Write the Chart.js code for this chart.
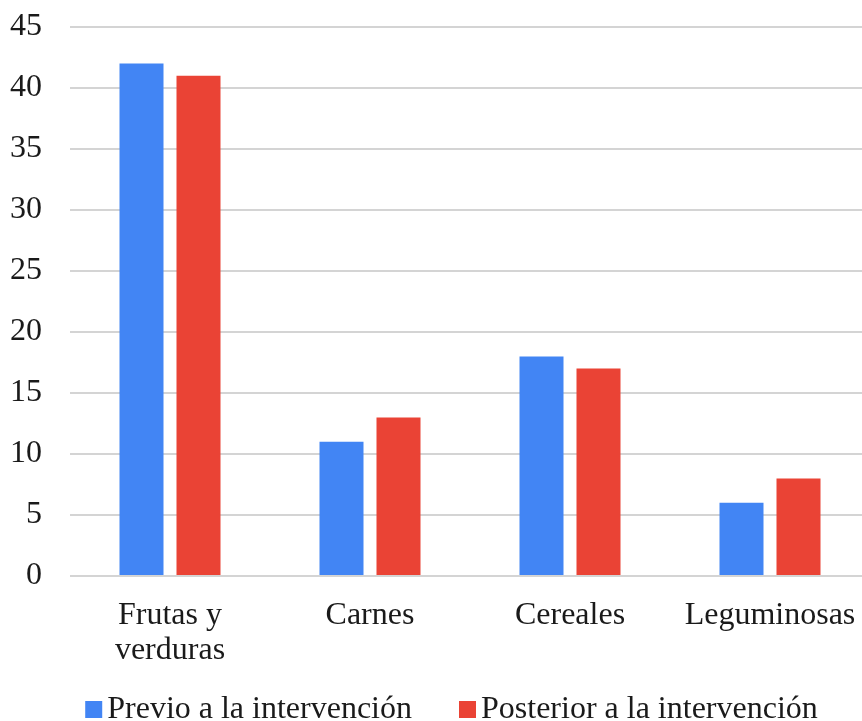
<!DOCTYPE html>
<html>
<head>
<meta charset="utf-8">
<script src="https://cdn.jsdelivr.net/npm/chart.js@4/dist/chart.umd.min.js"></script>
<style>
  html, body { margin: 0; padding: 0; background: #fff; overflow: hidden; }
  #wrap { width: 870px; height: 721px; }
</style>
</head>
<body>
<div id="wrap"><canvas id="c" width="870" height="721"></canvas></div>
<script>
const categories = [["Frutas y", "verduras"], "Carnes", "Cereales", "Leguminosas"];
const seriesNames = ["Previo a la intervención", "Posterior a la intervención"];
const previo = [42, 11, 18, 6];
const posterior = [41, 13, 17, 8];
const yTicks = [0, 5, 10, 15, 20, 25, 30, 35, 40, 45];

const FONT = "'Liberation Serif', 'Times New Roman', serif";
const TEXT = "#1a1a1a";
const COLORS = ["#4285F4", "#EA4335"];

// Legend drawn beneath the axis: square swatch followed closely by its label
const bottomLegend = {
  id: 'bottomLegend',
  afterDraw(chart) {
    const ctx = chart.ctx;
    ctx.save();
    ctx.font = "32px " + FONT;
    ctx.textBaseline = "alphabetic";
    ctx.textAlign = "left";
    const box = 17, gap = 5, spacing = 47, baseline = 718, center = 451.5;
    const items = chart.data.datasets.map(ds => ({ text: ds.label, color: ds.backgroundColor, w: ctx.measureText(ds.label).width }));
    const total = items.reduce((s, it) => s + box + gap + it.w, 0) + spacing * (items.length - 1);
    let x = center - total / 2;
    items.forEach(it => {
      ctx.fillStyle = it.color;
      ctx.fillRect(x, baseline - box, box, box);
      x += box + gap;
      ctx.fillStyle = TEXT;
      ctx.fillText(it.text, x, baseline);
      x += it.w + spacing;
    });
    ctx.restore();
  }
};

new Chart(document.getElementById('c'), {
  type: 'bar',
  data: {
    labels: categories,
    datasets: [
      { label: seriesNames[0], data: previo, backgroundColor: COLORS[0] },
      { label: seriesNames[1], data: posterior, backgroundColor: COLORS[1] }
    ]
  },
  options: {
    responsive: false,
    animation: false,
    categoryPercentage: 0.57,
    barPercentage: 0.772,
    layout: { padding: { top: 27, left: 0, right: 0, bottom: 0 } },
    plugins: { legend: { display: false }, tooltip: { enabled: false } },
    scales: {
      x: {
        grid: { display: false },
        border: { display: false },
        ticks: {
          color: TEXT,
          font: { family: FONT, size: 32, lineHeight: 1.1 },
          padding: 14,
          maxRotation: 0
        },
        afterFit(scale) { scale.height = 145; }
      },
      y: {
        min: 0,
        max: 45,
        afterBuildTicks(scale) { scale.ticks = yTicks.map(v => ({ value: v })); },
        grid: { color: "#d4d4d4", lineWidth: 2, drawTicks: true, tickLength: 28, tickColor: "rgba(0,0,0,0)" },
        border: { display: false },
        ticks: {
          color: TEXT,
          font: { family: FONT, size: 32 },
          padding: 0
        },
        afterFit(scale) { scale.width = 70; }
      }
    }
  },
  plugins: [bottomLegend]
});
</script>
</body>
</html>
